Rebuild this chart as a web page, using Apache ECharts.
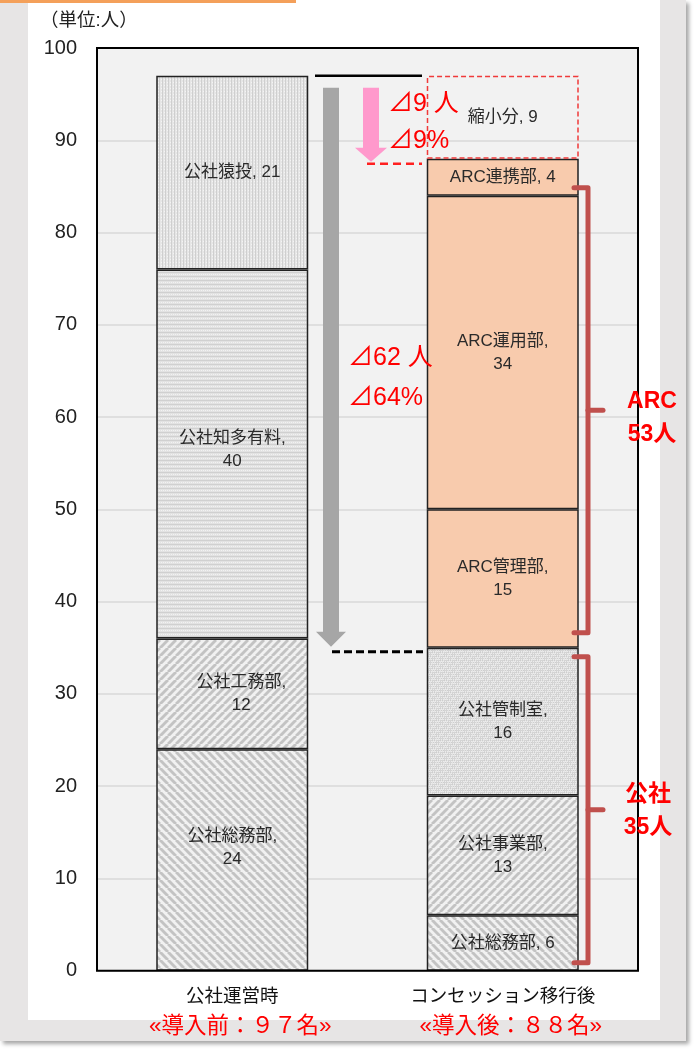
<!DOCTYPE html>
<html><head><meta charset="utf-8">
<script src="https://cdn.jsdelivr.net/npm/echarts/dist/echarts.min.js"></script>
<style>
html,body{margin:0;padding:0;background:#fff;}
#frame{position:absolute;left:0;top:0;width:686px;height:1041px;background:#e7e5e5;box-shadow:3px 3px 4px rgba(0,0,0,0.35);}
#panel{position:absolute;left:28px;top:0;width:632px;height:1020px;background:#fff;}
#topline{position:absolute;left:0;top:0;width:296px;height:3px;background:#f4a05a;}
#c{position:absolute;left:0;top:0;width:697px;height:1050px;}
</style>
</head><body>
<div id="frame"></div><div id="panel"></div><div id="topline"></div>
<div id="c"></div>
<script>
// ---- data ----
const categories = ['公社運営時', 'コンセッション移行後'];
const subLabels = ['«導入前：９７名»', '«導入後：８８名»'];
const unitLabel = '（単位:人）';
const somu = [24, 6];          // 公社総務部
const koumu = [12, null];      // 公社工務部
const jigyou = [null, 13];     // 公社事業部
const kansei = [null, 16];     // 公社管制室
const chita = [40, null];      // 公社知多有料
const sanage = [21, null];     // 公社猿投
const arcKanri = [null, 15];   // ARC管理部
const arcUnyo = [null, 34];    // ARC運用部
const arcRenkei = [null, 4];   // ARC連携部
const shukusho = [null, 9];    // 縮小分

const totalBefore = somu[0] + koumu[0] + chita[0] + sanage[0];           // 97
const koushaAfter = somu[1] + jigyou[1] + kansei[1];                       // 35
const arcAfter = arcKanri[1] + arcUnyo[1] + arcRenkei[1];                  // 53
const totalAfter = koushaAfter + arcAfter;                                 // 88

// ---- patterns ----
function tile(w, h, draw) {
  const c = document.createElement('canvas'); c.width = w; c.height = h;
  const g = c.getContext('2d'); draw(g, w, h);
  return { image: c, repeat: 'repeat' };
}
function hatch(dir) {
  return tile(8, 8, (g, w, h) => {
    g.fillStyle = '#f1f1f1'; g.fillRect(0, 0, w, h);
    g.strokeStyle = '#c3c3c3'; g.lineWidth = 2.9;
    for (let k = -1; k <= 1; k++) {
      g.beginPath();
      if (dir === 'back') { g.moveTo(k * w, 0); g.lineTo(k * w + w, h); }
      else { g.moveTo(k * w, h); g.lineTo(k * w + w, 0); }
      g.stroke();
    }
  });
}
const patVert = tile(3, 3, (g) => {
  g.fillStyle = '#e6e6e6'; g.fillRect(0, 0, 3, 3);
  g.fillStyle = '#cfcfcf'; g.fillRect(0, 0, 1, 3);
  g.fillStyle = '#f4f4f4'; g.fillRect(2, 1, 1, 1);
});
const patHoriz = tile(4, 4, (g) => {
  g.fillStyle = '#e2e2e2'; g.fillRect(0, 0, 4, 4);
  g.fillStyle = '#d0d0d0'; g.fillRect(0, 0, 4, 1);
  g.fillStyle = '#f2f2f2'; g.fillRect(1, 2, 1, 1); g.fillRect(3, 2, 1, 1);
});
const patCheck = tile(8, 8, (g) => {
  g.fillStyle = '#e4e4e4'; g.fillRect(0, 0, 8, 8);
  g.fillStyle = '#cdcdcd';
  for (let y = 0; y < 8; y += 2) for (let x = (y / 2) % 2; x < 8; x += 2) g.fillRect(x, y, 1, 1);
  g.fillStyle = '#d4d4d4'; g.fillRect(0, 0, 4, 4); g.fillRect(4, 4, 4, 4);
  g.fillStyle = '#ececec';
  for (let y = 0; y < 8; y += 2) for (let x = 1; x < 8; x += 2) g.fillRect(x, y + 1, 1, 1);
});

const BORDER = '#222';
const FONT = '"Liberation Sans", "Noto Sans CJK JP", sans-serif';
const oneLine = new Set(['公社猿投', 'ARC連携部', '縮小分']);

function mk(name, data, fill, extra) {
  return Object.assign({
    name, type: 'bar', stack: 'total', data, barWidth: 152,
    itemStyle: { color: fill, borderColor: BORDER, borderWidth: 1.5 },
    label: {
      show: true, position: 'inside', color: '#2a2a2a', fontSize: 17, lineHeight: 23,
      fontFamily: FONT,
      formatter: p => (oneLine.has(p.seriesName) || (p.seriesName === '公社総務部' && p.dataIndex === 1))
        ? `${p.seriesName}, ${p.value}` : `${p.seriesName},\n${p.value}`
    },
    emphasis: { disabled: true }
  }, extra || {});
}

const series = [
  mk('公社総務部', [{ value: somu[0], label: { offset: [0, -12] } }, somu[1]], hatch('back')),
  mk('公社工務部', [{ value: koumu[0], label: { offset: [9, 0] } }, '-'], hatch('fwd')),
  mk('公社事業部', ['-', jigyou[1]], hatch('fwd')),
  mk('公社管制室', ['-', kansei[1]], patCheck),
  mk('公社知多有料', [{ value: chita[0], label: { offset: [0, -4] } }, '-'], patHoriz),
  mk('公社猿投', [sanage[0], '-'], patVert),
  mk('ARC管理部', ['-', arcKanri[1]], '#f8cbad'),
  mk('ARC運用部', ['-', arcUnyo[1]], '#f8cbad'),
  mk('ARC連携部', ['-', arcRenkei[1]], '#f8cbad'),
  mk('縮小分', ['-', shukusho[1]], 'rgba(0,0,0,0)', {
    itemStyle: { color: 'rgba(0,0,0,0)', borderColor: '#f03a3a', borderWidth: 1.5, borderType: [5, 3] }
  })
];

const GL = 97, GR = 59;
const chart = echarts.init(document.getElementById('c'), null, { renderer: 'canvas' });
chart.setOption({
  backgroundColor: 'transparent',
  animation: false,
  grid: {
    left: GL, top: 48, right: GR, bottom: 79.3,
    show: true, backgroundColor: '#f2f2f2', borderColor: '#000', borderWidth: 0,
    outerBoundsMode: 'none'
  },
  xAxis: {
    type: 'category', data: categories,
    axisLine: { show: false }, axisTick: { show: false },
    axisLabel: {
      margin: 11, interval: 0,
      formatter: (v, i) => `{a|${v}}\n{b|${subLabels[i]}}`,
      rich: {
        a: { fontSize: 18.5, color: '#111', lineHeight: 30, fontFamily: FONT },
        b: { fontSize: 22.5, color: '#ff0000', lineHeight: 30, fontFamily: FONT, padding: [0, 0, 0, 16] }
      }
    }
  },
  yAxis: {
    type: 'value', min: 0, max: 100, interval: 10,
    axisLine: { show: false }, axisTick: { show: false },
    axisLabel: { fontSize: 20, color: '#222', margin: 20, fontFamily: FONT },
    splitLine: { lineStyle: { color: '#d9d9d9', width: 1.5 } }
  },
  series
});

// ---- annotations (positioned via the value axis) ----
const Y = v => chart.convertToPixel({ yAxisIndex: 0 }, v);
const RED = '#ff0000';
const yTop = Y(totalBefore), yAfter = Y(totalAfter), yKousha = Y(koushaAfter), y0 = Y(0), y100 = Y(100);
const pct = (a) => Math.round(a / totalBefore * 100);
const W = chart.getWidth();

function arrow(cx, top, tip, shaftW, headW, headH, fill) {
  const hb = tip - headH;
  return {
    type: 'polygon', z: 100,
    shape: { points: [[cx - shaftW / 2, top], [cx + shaftW / 2, top], [cx + shaftW / 2, hb], [cx + headW / 2, hb], [cx, tip], [cx - headW / 2, hb], [cx - shaftW / 2, hb]] },
    style: { fill }
  };
}
function txt(x, y, text, size, color, weight, align) {
  return {
    type: 'text', z: 100, x, y,
    style: { text, fill: color, font: `${weight || 'normal'} ${size}px ${FONT}`, align: align || 'left', verticalAlign: 'middle', textAlign: align || 'left', textVerticalAlign: 'middle' }
  };
}
function bracket(top, bot) {
  const mid = (top + bot) / 2;
  return [
    { type: 'polyline', z: 100, shape: { points: [[574, top], [588, top], [588, bot], [574, bot]] }, style: { stroke: '#c0504d', lineWidth: 5, fill: null, lineJoin: 'round', lineCap: 'round' } },
    { type: 'line', z: 100, shape: { x1: 588, y1: mid, x2: 603, y2: mid }, style: { stroke: '#c0504d', lineWidth: 5, lineCap: 'round' } }
  ];
}

const els = [
  { type: 'rect', z: 90, shape: { x: GL, y: y100, width: W - GL - GR, height: y0 - y100 }, style: { fill: null, stroke: '#000', lineWidth: 2 } },
  txt(40, 21, unitLabel, 18.5, '#222'),
  { type: 'line', z: 100, shape: { x1: 315, y1: yTop, x2: 422, y2: yTop }, style: { stroke: '#000', lineWidth: 2.5 } },
  arrow(331, yTop + 12, yKousha - 1, 16, 30, 15, '#a6a6a6'),
  { type: 'line', z: 100, shape: { x1: 332, y1: yKousha + 4, x2: 423, y2: yKousha + 4 }, style: { stroke: '#000', lineWidth: 3, lineDash: [8, 4] } },
  arrow(371, yTop + 12, yAfter + 3, 16, 32, 14, '#ff99cc'),
  { type: 'line', z: 100, shape: { x1: 367, y1: yAfter + 5, x2: 422, y2: yAfter + 5 }, style: { stroke: '#ff2020', lineWidth: 2.5, lineDash: [8, 5] } },
  txt(388, 104, `⊿${totalBefore - totalAfter} 人`, 25, RED),
  txt(388, 141, `⊿${pct(totalBefore - totalAfter)}%`, 25, RED),
  txt(348, 358, `⊿${totalBefore - koushaAfter} 人`, 25, RED),
  txt(348, 398, `⊿${pct(totalBefore - koushaAfter)}%`, 25, RED),
  ...bracket(Y(totalAfter) + 29, yKousha - 15),
  ...bracket(yKousha + 9, y0 - 8),
  txt(652, 402, 'ARC', 23, RED, 'bold', 'center'),
  txt(652, 435, `${arcAfter}人`, 23, RED, 'bold', 'center'),
  txt(648, 795, '公社', 23, RED, 'bold', 'center'),
  txt(648, 828, `${koushaAfter}人`, 23, RED, 'bold', 'center')
];
chart.setOption({ graphic: { elements: els } });
</script>
</body></html>
